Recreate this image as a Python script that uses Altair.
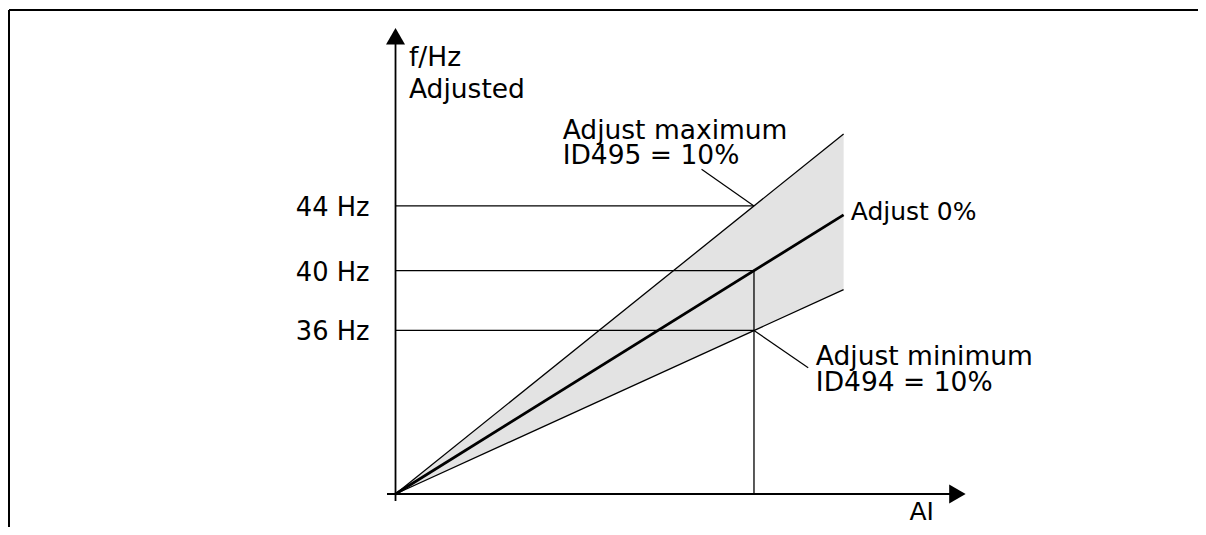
import altair as alt
import pandas as pd

# ---- data (diagram units: AI in %, f in schematic frequency units) ----
ai_points = [0, 100]
f_adjust0 = [0, 50.0]
f_adjust_max = [0, 64.5]
f_adjust_min = [0, 36.6]

ref_ai = 80
ref_levels = [51.6, 40.0, 29.3]
ref_labels = ["44 Hz", "40 Hz", "36 Hz"]

y_axis_span = [-1.25, 82.0]   # vertical axis line (arrow head at top end)
x_axis_span = [-1.9, 125.4]   # horizontal axis line (arrow head at right end)

# multi-line annotation blocks (first-line baseline position)
block_text = ["f/Hz\nAdjusted", "Adjust maximum\nID495 = 10%", "Adjust minimum\nID494 = 10%"]
block_x = [3.0, 37.3, 93.8]
block_y = [76.7, 63.5, 23.1]
block_line_height = [32, 24.7, 25.7]

single_text = ["Adjust 0%", "AI"]
single_x = [101.6, 114.7]
single_y = [49.1, -4.6]

leader_max_x = [68.3, 80.0]
leader_max_y = [58.15, 51.6]
leader_min_x = [80.0, 92.1]
leader_min_y = [29.3, 22.6]

# ---- tables ----
band = pd.DataFrame({"ai": ai_points, "fmax": f_adjust_max, "fmin": f_adjust_min})
lines = pd.DataFrame({
    "series": ["max"] * 2 + ["mid"] * 2 + ["min"] * 2,
    "ai": ai_points * 3,
    "f": f_adjust_max + f_adjust0 + f_adjust_min,
})
refs = pd.DataFrame({"f": ref_levels, "label": ref_labels,
                     "x0": [0] * 3, "x1": [ref_ai] * 3})
vline = pd.DataFrame({"ai": [ref_ai], "y0": [0], "y1": [ref_levels[1]]})
yaxis = pd.DataFrame({"ai": [0], "y0": [y_axis_span[0]], "y1": [y_axis_span[1]]})
xaxis = pd.DataFrame({"f": [0], "x0": [x_axis_span[0]], "x1": [x_axis_span[1]]})
arrows = pd.DataFrame({"ai": [0, x_axis_span[1]], "f": [y_axis_span[1], 0],
                       "shape": ["triangle-up", "triangle-right"]})
blocks = pd.DataFrame({"t": block_text, "ai": block_x, "f": block_y})
singles = pd.DataFrame({"t": single_text, "ai": single_x, "f": single_y})
leaders = pd.DataFrame({
    "id": ["a", "a", "b", "b"],
    "ai": leader_max_x + leader_min_x,
    "f": leader_max_y + leader_min_y,
})

W, H = 1190, 519
xs = alt.Scale(domain=[-86.48, 179.09], nice=False, zero=False)
ys = alt.Scale(domain=[-5.91, 87.05], nice=False, zero=False)
X = lambda f: alt.X(f, type="quantitative", scale=xs, axis=None)
Y = lambda f: alt.Y(f, type="quantitative", scale=ys, axis=None)

FONT = "DejaVu Sans"

area = alt.Chart(band).mark_area(color="#e3e3e3", opacity=1).encode(
    x=X("ai"), y=Y("fmax"), y2="fmin")

thin = alt.Chart(lines).transform_filter("datum.series != 'mid'").mark_line(
    color="black", strokeWidth=1.3).encode(x=X("ai"), y=Y("f"), detail="series:N")
mid = alt.Chart(lines).transform_filter("datum.series == 'mid'").mark_line(
    color="black", strokeWidth=2.8).encode(x=X("ai"), y=Y("f"))

ref_rules = alt.Chart(refs).mark_rule(color="black", strokeWidth=1.3).encode(
    x=X("x0"), x2="x1", y=Y("f"))
ref_text = alt.Chart(refs).mark_text(
    align="right", baseline="alphabetic", font=FONT, fontSize=25.7, color="black",
    dx=-26, dy=10).encode(x=X("x0"), y=Y("f"), text="label")

vrule = alt.Chart(vline).mark_rule(color="black", strokeWidth=1.3).encode(
    x=X("ai"), y=Y("y0"), y2="y1")

yax = alt.Chart(yaxis).mark_rule(color="black", strokeWidth=1.8).encode(
    x=X("ai"), y=Y("y0"), y2="y1")
xax = alt.Chart(xaxis).mark_rule(color="black", strokeWidth=2).encode(
    x=X("x0"), x2="x1", y=Y("f"))
heads = alt.Chart(arrows).mark_point(filled=True, color="black", opacity=1, size=361).encode(
    x=X("ai"), y=Y("f"), shape=alt.Shape("shape:N", scale=None))

block_layers = []
for i in range(len(block_text)):
    block_layers.append(
        alt.Chart(blocks.iloc[[i]]).mark_text(
            align="left", baseline="alphabetic", font=FONT, fontSize=26.5,
            color="black", lineBreak="\n", lineHeight=block_line_height[i]).encode(
            x=X("ai"), y=Y("f"), text="t")
    )

single_texts = alt.Chart(singles).mark_text(
    align="left", baseline="alphabetic", font=FONT, fontSize=25, color="black").encode(
    x=X("ai"), y=Y("f"), text="t")

lead = alt.Chart(leaders).mark_line(color="black", strokeWidth=1.2).encode(
    x=X("ai"), y=Y("f"), detail="id:N")

border_top = alt.Chart(band).mark_rule(color="black", strokeWidth=2).encode(
    x=alt.value(1), x2=alt.value(W), y=alt.value(2))
border_left = alt.Chart(band).mark_rule(color="black", strokeWidth=2).encode(
    x=alt.value(1), y=alt.value(2), y2=alt.value(H))

chart = alt.layer(
    area, ref_rules, vrule, thin, mid, lead, yax, xax, heads,
    ref_text, *block_layers, single_texts, border_top, border_left
).properties(
    width=W, height=H, padding=0,
    autosize=alt.AutoSizeParams(type="none"),
).configure_view(stroke=None)

chart.save("out.html", embed_options={"renderer": "svg", "actions": False})
